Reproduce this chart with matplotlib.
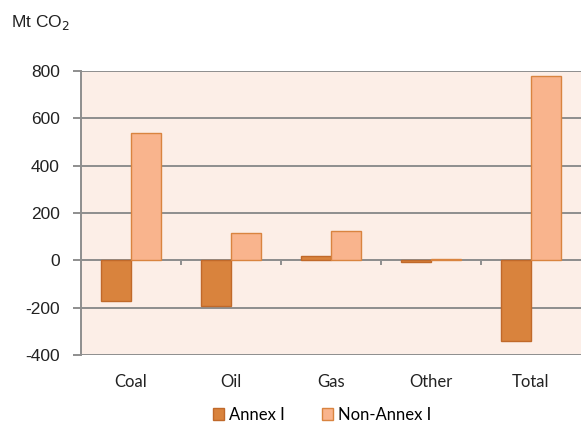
import numpy as np
import matplotlib.pyplot as plt
from matplotlib.patches import Patch
from matplotlib.transforms import ScaledTranslation

categories = ["Coal", "Oil", "Gas", "Other", "Total"]
annex_i = [-170, -195, 20, -5, -340]
non_annex_i = [540, 115, 125, 5, 780]

annex_color = "#D9833D"
annex_edge = "#C0692A"
non_color = "#F9B48D"
non_edge = "#D98440"
grid_color = "#8E8E8E"

plt.rcParams["axes.unicode_minus"] = False

fig = plt.figure(figsize=(5.82, 4.23), dpi=100)
ax = fig.add_axes([80.7 / 582, 1 - 355 / 423, 500 / 582, (355 - 71) / 423])
ax.set_facecolor("#FCEEE7")

x = np.arange(len(categories))
w = 0.3
ax.bar(x - w / 2, annex_i, w, color=annex_color, edgecolor=annex_edge, linewidth=1, zorder=3)
ax.bar(x + w / 2, non_annex_i, w, color=non_color, edgecolor=non_edge, linewidth=1, zorder=3)

ax.set_xlim(-0.5, len(categories) - 0.5)
ax.set_ylim(-400, 800)
ax.set_yticks(range(-400, 801, 200))
ax.yaxis.grid(True, color=grid_color, linewidth=1.4, zorder=1)
ax.tick_params(axis="y", length=6, width=1.4, color=grid_color, labelsize=12.5, pad=9)
for lbl in ax.get_yticklabels():
    lbl.set_family("Liberation Sans")
    lbl.set_color("#222222")

# category labels below the plot area; ticks sit on the zero line
ax.set_xticks([])
offset = ScaledTranslation(0, -19 / 100, fig.dpi_scale_trans)
for i, c in enumerate(categories):
    ax.text(i, -400, c, transform=ax.transData + offset, ha="center", va="top",
            fontsize=12, family="Lato", color="#222222")
for b in np.arange(0.5, len(categories) - 1, 1):
    ax.plot([b, b], [0, -14], color=grid_color, linewidth=1.4, zorder=2, clip_on=False)
ax.axhline(0, color=grid_color, linewidth=1.4, zorder=2)

for s in ["top", "right", "bottom"]:
    ax.spines[s].set_visible(False)
ax.spines["left"].set_color(grid_color)
ax.spines["left"].set_linewidth(1.4)

fig.text(11 / 582, 1 - 22 / 423, "Mt CO$_2$", fontsize=12.5, family="Liberation Sans",
         va="center", ha="left", color="#222222")

handles = [Patch(facecolor=annex_color, edgecolor=annex_edge, label="Annex I"),
           Patch(facecolor=non_color, edgecolor=non_edge, label="Non-Annex I")]
fig.legend(handles=handles, loc="center", bbox_to_anchor=(322 / 582, 1 - 415 / 423),
           ncol=2, frameon=False, prop={"family": "Lato", "size": 12},
           handlelength=0.7, handleheight=0.7, handletextpad=0.3, columnspacing=2.2)

fig.savefig("out.png", dpi=100)
